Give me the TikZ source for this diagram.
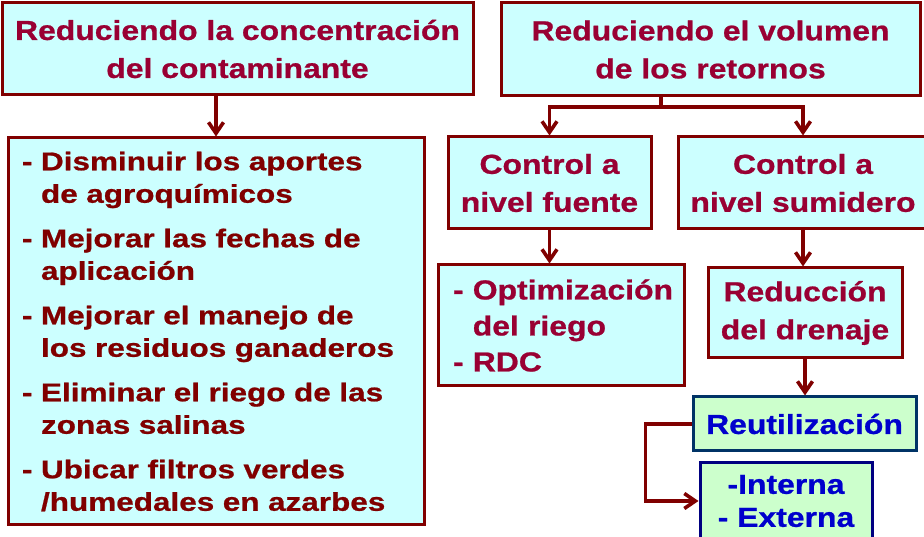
\documentclass[tikz,border=0pt]{standalone}
\usepackage{fontspec}
\setmainfont{Liberation Sans}
\newfontfamily\titulofuente{Liberation Sans}[FakeStretch=1.16,BoldFeatures={FakeBold=0.8}]
\newfontfamily\listafuente{Liberation Sans}[FakeStretch=1.23,BoldFeatures={FakeBold=0.8}]
\usetikzlibrary{arrows.meta}
\definecolor{granate}{RGB}{128,0,0}
\definecolor{textogranate}{RGB}{153,0,51}
\definecolor{cian}{RGB}{204,255,255}
\definecolor{verdeclaro}{RGB}{204,255,204}
\definecolor{azulborde}{RGB}{0,51,102}
\definecolor{azulmarino}{RGB}{0,0,128}
\definecolor{azultexto}{RGB}{0,0,204}
\begin{document}
\begin{tikzpicture}[x=1pt,y=1pt,
  caja/.style={draw=granate, fill=cian, line width=3pt, text=textogranate, inner sep=0pt,
    align=center, font=\titulofuente\bfseries\fontsize{27.5}{38}\selectfont},
  cajaverde/.style={caja, draw=azulborde, fill=verdeclaro, text=azultexto},
  flecha/.style={draw=granate, line width=3.6pt, -{Straight Barb[length=11pt,width=15pt]}}]
\useasboundingbox (0,0) rectangle (924,537);
% Cajas superiores
\node[caja, minimum width=471, minimum height=92] (conc) at (237.5,488) {Reduciendo la concentración\\del contaminante};
\node[caja, minimum width=419, minimum height=93] (vol) at (710.5,487.5) {Reduciendo el volumen\\de los retornos};
% Lista de medidas
\node[caja, minimum width=416, minimum height=387, align=left, text width=388, inner xsep=14, text=granate,
  font=\listafuente\bfseries\fontsize{25.6}{32.5}\selectfont] (lista) at (216,205.5)
  {- Disminuir los aportes\\\hphantom{- }de agroquímicos\\[12pt]
   - Mejorar las fechas de\\\hphantom{- }aplicación\\[12pt]
   - Mejorar el manejo de\\\hphantom{- }los residuos ganaderos\\[12pt]
   - Eliminar el riego de las\\\hphantom{- }zonas salinas\\[12pt]
   - Ubicar filtros verdes\\\hphantom{- }/humedales en azarbes};
% Nivel fuente / sumidero
\node[caja, minimum width=203, minimum height=92] (fuente) at (549.5,354) {Control a\\nivel fuente};
\node[caja, minimum width=250, minimum height=92] (sumidero) at (803,354) {Control a\\nivel sumidero};
\node[caja, minimum width=246, minimum height=121, align=left, text width=216, inner xsep=15,
  font=\titulofuente\bfseries\fontsize{27.5}{36}\selectfont] (optim) at (561,211.5)
  {\mbox{- Optimización}\\\hphantom{- }del riego\\- RDC};
\node[caja, minimum width=194, minimum height=90] (reduccion) at (805,224) {Reducción\\del drenaje};
% Reutilizacion
\node[cajaverde, minimum width=223, minimum height=54] (reutil) at (804.5,113) {Reutilización};
\node[cajaverde, draw=azulmarino, minimum width=172, minimum height=76,
  font=\titulofuente\bfseries\fontsize{27.5}{33}\selectfont] (interna) at (786,36) {-Interna\\- Externa};
% Flechas
\coordinate (rama) at (661,430);
\draw[flecha] (conc.south -| lista.north) -- (lista.north);
\draw[granate, line width=3.6pt] (rama |- vol.south) -- (rama);
\draw[flecha] (rama) -| (fuente.north);
\draw[flecha] (rama) -| (sumidero.north);
\draw[flecha] (fuente.south) -- (fuente.south |- optim.north);
\draw[flecha] (sumidero.south) -- (sumidero.south |- reduccion.north);
\draw[flecha] (reduccion.south) -- (reduccion.south |- reutil.north);
\draw[flecha] (reutil.west) -- ++(-46,0) |- (interna.west);
\end{tikzpicture}
\end{document}
